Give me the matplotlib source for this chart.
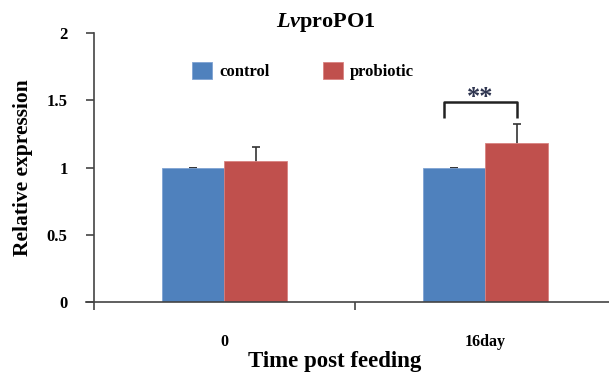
import matplotlib
matplotlib.use("Agg")
import matplotlib.pyplot as plt
import numpy as np

# relative expression of LvproPO1 at each sampling time
times = ["0", "16day"]
control = [1.0, 1.0]
control_err = [0.0, 0.0]
probiotic = [1.05, 1.18]
probiotic_err = [0.10, 0.14]
groups = ["control", "probiotic"]
colors = ["#4F81BD", "#C0504D"]
edge_colors = ["#7FA3D3", "#D98280"]

plt.rcParams["font.family"] = "Liberation Serif"
plt.rcParams["font.weight"] = "bold"
plt.rcParams["mathtext.fontset"] = "custom"
plt.rcParams["mathtext.rm"] = "Liberation Serif:bold"
plt.rcParams["mathtext.it"] = "Liberation Serif:italic:bold"

fig = plt.figure(figsize=(6.09, 3.81), dpi=100)
W, H = 609, 381
# axes box in pixels: y axis at x=94, zero line at y=302, top (2.0) at y=33
left, right, bottom, top = 94, 616, 302, 33
ax = fig.add_axes([left / W, 1 - bottom / H, (right - left) / W, (bottom - top) / H])

x = np.arange(len(times))
width = 0.238
ax.bar(x - width / 2, control, width, color=colors[0], edgecolor=edge_colors[0],
       linewidth=0.6, label=groups[0], zorder=2)
ax.bar(x + width / 2, probiotic, width, color=colors[1], edgecolor=edge_colors[1],
       linewidth=0.6, label=groups[1], zorder=2)

# error bars sit behind the bars so only the upper half shows
ax.errorbar(x - width / 2, control, yerr=control_err, fmt="none",
            ecolor="#333333", elinewidth=1.2, capsize=3, capthick=1.2, zorder=1)
ax.errorbar(x + width / 2, probiotic, yerr=probiotic_err, fmt="none",
            ecolor="#333333", elinewidth=1.2, capsize=3, capthick=1.2, zorder=1)

# significance bracket over 16day
bx0, bx1 = x[1] - width / 2 - 0.04, x[1] + width / 2
ax.plot([bx0, bx0, bx1, bx1], [1.37, 1.49, 1.49, 1.37], color="#222222",
        linewidth=1.8, solid_capstyle="butt", zorder=3)
ax.text((bx0 + bx1) / 2, 1.47, "**", ha="center", va="baseline", fontsize=19,
        color="#2F3550")

ax.set_xlim(-0.5, 1.5)
ax.set_ylim(0, 2)
ax.set_yticks([0, 0.5, 1, 1.5, 2])
ax.set_yticklabels(["0", "0.5", "1", "1.5", "2"])
ax.tick_params(axis="y", direction="out", length=6, width=1.2, pad=13,
               labelsize=12, color="#444444")

# category boundaries as ticks, names at the group centres
ax.set_xticks([-0.5, 0.5, 1.5])
ax.set_xticklabels([])
ax.set_xticks(x, minor=True)
ax.set_xticklabels(times, minor=True)
ax.tick_params(axis="x", which="major", direction="out", length=6, width=1.2,
               color="#444444")
ax.tick_params(axis="x", which="minor", length=0, pad=23, labelsize=11.5)

for s in ["top", "right"]:
    ax.spines[s].set_visible(False)
for s in ["left", "bottom"]:
    ax.spines[s].set_linewidth(1.2)
    ax.spines[s].set_color("#444444")
ax.spines["bottom"].set_bounds(-0.5 - 8 / 261, 1.5)

fig.text(326 / W, 1 - 22 / H, r"$\mathit{Lv}$proPO1", ha="center", va="center",
         fontsize=16, fontweight="bold")
fig.text(23 / W, 1 - 168 / H, "Relative expression", ha="center", va="center",
         rotation=90, fontsize=15.5, fontweight="bold")
fig.text(335 / W, 1 - 362 / H, "Time post feeding", ha="center", va="center",
         fontsize=16.5, fontweight="bold")

fig.legend(loc="center", bbox_to_anchor=(303 / W, 1 - 71 / H), ncol=2,
           frameon=False, fontsize=12, handlelength=1.2, handleheight=1.2,
           handletextpad=0.4, columnspacing=3.2)

fig.savefig("out.png", dpi=100)
